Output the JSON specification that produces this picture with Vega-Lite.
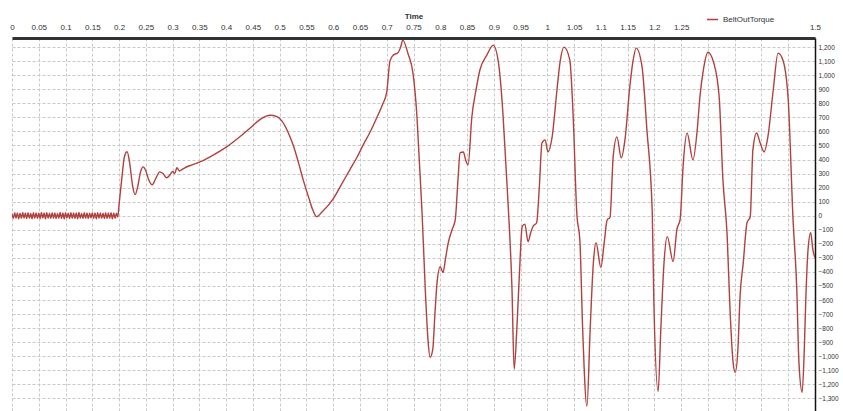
{
  "$schema": "https://vega.github.io/schema/vega-lite/v6.json",
  "width": 803,
  "height": 373,
  "autosize": {"type": "none"},
  "padding": {"left": 12, "top": 38, "right": 28, "bottom": 0},
  "background": "white",
  "config": {
    "view": {"stroke": null},
    "font": "Liberation Sans"
  },
  "data": {
    "values": [
      {"t": 0, "torque": 15}, {"t": 0.0025, "torque": -20}, {"t": 0.005, "torque": 22}, {"t": 0.0075, "torque": -18},
      {"t": 0.01, "torque": 20}, {"t": 0.0125, "torque": -22}, {"t": 0.015, "torque": 18}, {"t": 0.0175, "torque": -19},
      {"t": 0.02, "torque": 23}, {"t": 0.0225, "torque": -17}, {"t": 0.025, "torque": 19}, {"t": 0.0275, "torque": -21},
      {"t": 0.03, "torque": 21}, {"t": 0.0325, "torque": -18}, {"t": 0.035, "torque": 17}, {"t": 0.0375, "torque": -22},
      {"t": 0.04, "torque": 22}, {"t": 0.0425, "torque": -19}, {"t": 0.045, "torque": 20}, {"t": 0.0475, "torque": -20},
      {"t": 0.05, "torque": 18}, {"t": 0.0525, "torque": -21}, {"t": 0.055, "torque": 23}, {"t": 0.0575, "torque": -17},
      {"t": 0.06, "torque": 19}, {"t": 0.0625, "torque": -22}, {"t": 0.065, "torque": 21}, {"t": 0.0675, "torque": -18},
      {"t": 0.07, "torque": 18}, {"t": 0.0725, "torque": -20}, {"t": 0.075, "torque": 22}, {"t": 0.0775, "torque": -19},
      {"t": 0.08, "torque": 20}, {"t": 0.0825, "torque": -21}, {"t": 0.085, "torque": 17}, {"t": 0.0875, "torque": -18},
      {"t": 0.09, "torque": 23}, {"t": 0.0925, "torque": -20}, {"t": 0.095, "torque": 19}, {"t": 0.0975, "torque": -22},
      {"t": 0.1, "torque": 21}, {"t": 0.1025, "torque": -17}, {"t": 0.105, "torque": 18}, {"t": 0.1075, "torque": -21},
      {"t": 0.11, "torque": 22}, {"t": 0.1125, "torque": -19}, {"t": 0.115, "torque": 20}, {"t": 0.1175, "torque": -20},
      {"t": 0.12, "torque": 19}, {"t": 0.1225, "torque": -22}, {"t": 0.125, "torque": 23}, {"t": 0.1275, "torque": -18},
      {"t": 0.13, "torque": 17}, {"t": 0.1325, "torque": -20}, {"t": 0.135, "torque": 21}, {"t": 0.1375, "torque": -19},
      {"t": 0.14, "torque": 20}, {"t": 0.1425, "torque": -21}, {"t": 0.145, "torque": 18}, {"t": 0.1475, "torque": -17},
      {"t": 0.15, "torque": 22}, {"t": 0.1525, "torque": -20}, {"t": 0.155, "torque": 19}, {"t": 0.1575, "torque": -22},
      {"t": 0.16, "torque": 21}, {"t": 0.1625, "torque": -18}, {"t": 0.165, "torque": 20}, {"t": 0.1675, "torque": -19},
      {"t": 0.17, "torque": 18}, {"t": 0.1725, "torque": -21}, {"t": 0.175, "torque": 22}, {"t": 0.1775, "torque": -20},
      {"t": 0.18, "torque": 19}, {"t": 0.1825, "torque": -18}, {"t": 0.185, "torque": 21}, {"t": 0.1875, "torque": -22},
      {"t": 0.19, "torque": 20}, {"t": 0.1925, "torque": -19}, {"t": 0.195, "torque": 18}, {"t": 0.1975, "torque": -10},
      {"t": 0.2, "torque": 80}, {"t": 0.205, "torque": 260}, {"t": 0.21, "torque": 420}, {"t": 0.215, "torque": 455},
      {"t": 0.22, "torque": 370}, {"t": 0.225, "torque": 220}, {"t": 0.23, "torque": 150}, {"t": 0.235, "torque": 210},
      {"t": 0.24, "torque": 310}, {"t": 0.245, "torque": 348}, {"t": 0.25, "torque": 320}, {"t": 0.255, "torque": 260},
      {"t": 0.262, "torque": 220}, {"t": 0.268, "torque": 260}, {"t": 0.276, "torque": 312}, {"t": 0.282, "torque": 300},
      {"t": 0.289, "torque": 270}, {"t": 0.295, "torque": 290}, {"t": 0.3, "torque": 315}, {"t": 0.304, "torque": 300},
      {"t": 0.308, "torque": 341}, {"t": 0.313, "torque": 318}, {"t": 0.318, "torque": 330}, {"t": 0.325, "torque": 345},
      {"t": 0.335, "torque": 360}, {"t": 0.351, "torque": 383}, {"t": 0.375, "torque": 430}, {"t": 0.401, "torque": 490},
      {"t": 0.425, "torque": 560}, {"t": 0.445, "torque": 625}, {"t": 0.465, "torque": 690}, {"t": 0.482, "torque": 715},
      {"t": 0.495, "torque": 705}, {"t": 0.504, "torque": 675}, {"t": 0.515, "torque": 600}, {"t": 0.525, "torque": 505},
      {"t": 0.535, "torque": 380}, {"t": 0.544, "torque": 255}, {"t": 0.555, "torque": 120}, {"t": 0.562, "torque": 40},
      {"t": 0.569, "torque": -7}, {"t": 0.58, "torque": 30}, {"t": 0.6, "torque": 120}, {"t": 0.615, "torque": 220},
      {"t": 0.631, "torque": 327}, {"t": 0.645, "torque": 420}, {"t": 0.656, "torque": 504}, {"t": 0.669, "torque": 596},
      {"t": 0.682, "torque": 703}, {"t": 0.692, "torque": 790}, {"t": 0.7, "torque": 880}, {"t": 0.706, "torque": 1100},
      {"t": 0.712, "torque": 1143}, {"t": 0.721, "torque": 1160}, {"t": 0.726, "torque": 1200}, {"t": 0.73, "torque": 1250},
      {"t": 0.74, "torque": 1150}, {"t": 0.749, "torque": 1015}, {"t": 0.756, "torque": 731}, {"t": 0.761, "torque": 380},
      {"t": 0.766, "torque": 21}, {"t": 0.772, "torque": -525}, {"t": 0.777, "torque": -880}, {"t": 0.781, "torque": -1008},
      {"t": 0.786, "torque": -951}, {"t": 0.79, "torque": -700}, {"t": 0.794, "torque": -476}, {"t": 0.8, "torque": -362},
      {"t": 0.805, "torque": -405}, {"t": 0.81, "torque": -300}, {"t": 0.815, "torque": -192}, {"t": 0.822, "torque": -100},
      {"t": 0.828, "torque": -28}, {"t": 0.833, "torque": 250}, {"t": 0.837, "torque": 447}, {"t": 0.843, "torque": 454},
      {"t": 0.848, "torque": 390}, {"t": 0.852, "torque": 362}, {"t": 0.859, "torque": 703}, {"t": 0.867, "torque": 900},
      {"t": 0.874, "torque": 1037}, {"t": 0.887, "torque": 1143}, {"t": 0.899, "torque": 1214}, {"t": 0.908, "torque": 1108},
      {"t": 0.917, "torque": 731}, {"t": 0.922, "torque": 400}, {"t": 0.927, "torque": 64}, {"t": 0.934, "torque": -525},
      {"t": 0.938, "torque": -1093}, {"t": 0.943, "torque": -809}, {"t": 0.948, "torque": -400}, {"t": 0.953, "torque": -78},
      {"t": 0.958, "torque": -60}, {"t": 0.964, "torque": -185}, {"t": 0.969, "torque": -120}, {"t": 0.973, "torque": -78},
      {"t": 0.98, "torque": -50}, {"t": 0.985, "torque": 200}, {"t": 0.99, "torque": 518}, {"t": 0.996, "torque": 540},
      {"t": 1.001, "torque": 454}, {"t": 1.009, "torque": 561}, {"t": 1.018, "torque": 895}, {"t": 1.024, "torque": 1100},
      {"t": 1.031, "torque": 1200}, {"t": 1.042, "torque": 1108}, {"t": 1.048, "torque": 731}, {"t": 1.055, "torque": 21},
      {"t": 1.061, "torque": -192}, {"t": 1.066, "torque": -809}, {"t": 1.074, "torque": -1356}, {"t": 1.08, "torque": -809},
      {"t": 1.086, "torque": -334}, {"t": 1.091, "torque": -192}, {"t": 1.1, "torque": -369}, {"t": 1.106, "torque": -200},
      {"t": 1.112, "torque": -28}, {"t": 1.117, "torque": -14}, {"t": 1.123, "torque": 419}, {"t": 1.13, "torque": 561},
      {"t": 1.138, "torque": 412}, {"t": 1.145, "torque": 540}, {"t": 1.154, "torque": 916}, {"t": 1.16, "torque": 1100},
      {"t": 1.166, "torque": 1193}, {"t": 1.177, "torque": 1058}, {"t": 1.186, "torque": 611}, {"t": 1.196, "torque": 21},
      {"t": 1.199, "torque": -618}, {"t": 1.207, "torque": -1250}, {"t": 1.212, "torque": -809}, {"t": 1.218, "torque": -334},
      {"t": 1.224, "torque": -149}, {"t": 1.235, "torque": -327}, {"t": 1.242, "torque": -99}, {"t": 1.248, "torque": -28},
      {"t": 1.254, "torque": 376}, {"t": 1.261, "torque": 589}, {"t": 1.272, "torque": 398}, {"t": 1.28, "torque": 611},
      {"t": 1.285, "torque": 845}, {"t": 1.292, "torque": 1050}, {"t": 1.3, "torque": 1164}, {"t": 1.311, "torque": 1086},
      {"t": 1.321, "torque": 845}, {"t": 1.328, "torque": 256}, {"t": 1.336, "torque": -149}, {"t": 1.341, "torque": -646},
      {"t": 1.347, "torque": -1044}, {"t": 1.351, "torque": -1115}, {"t": 1.356, "torque": -951}, {"t": 1.36, "torque": -575},
      {"t": 1.366, "torque": -334}, {"t": 1.373, "torque": -50}, {"t": 1.379, "torque": -7}, {"t": 1.384, "torque": 469},
      {"t": 1.391, "torque": 589}, {"t": 1.397, "torque": 525}, {"t": 1.405, "torque": 454}, {"t": 1.412, "torque": 561},
      {"t": 1.422, "torque": 895}, {"t": 1.431, "torque": 1157}, {"t": 1.44, "torque": 1108}, {"t": 1.45, "torque": 824},
      {"t": 1.459, "torque": -28}, {"t": 1.466, "torque": -525}, {"t": 1.47, "torque": -1044}, {"t": 1.476, "torque": -1257},
      {"t": 1.48, "torque": -951}, {"t": 1.483, "torque": -575}, {"t": 1.487, "torque": -241}, {"t": 1.492, "torque": -121},
      {"t": 1.496, "torque": -241}, {"t": 1.5, "torque": -300}
    ]
  },
  "mark": {"type": "line", "strokeWidth": 1.4, "clip": true, "interpolate": "monotone"},
  "encoding": {
    "x": {
      "field": "t",
      "type": "quantitative",
      "scale": {"domain": [0, 1.5], "nice": false, "zero": false},
      "axis": {
        "orient": "top",
        "title": "Time",
        "titleFontSize": 8,
        "titleFontWeight": "bold",
        "titleColor": "#333",
        "titlePadding": 3,
        "values": [0, 0.05, 0.1, 0.15, 0.2, 0.25, 0.3, 0.35, 0.4, 0.45, 0.5, 0.55, 0.6, 0.65, 0.7, 0.75, 0.8, 0.85, 0.9, 0.95, 1, 1.05, 1.1, 1.15, 1.2, 1.25, 1.3, 1.35, 1.4, 1.45, 1.5],
        "format": "~g",
        "labelExpr": "datum.value > 1.27 && datum.value < 1.47 ? '' : datum.label",
        "labelFontSize": 8,
        "labelColor": "#333",
        "labelPadding": 7,
        "labelFlush": false,
        "labelOverlap": false,
        "ticks": false,
        "grid": true,
        "gridColor": "#c8c8c8",
        "gridDash": [3, 2],
        "gridWidth": 1,
        "domainColor": "#333",
        "domainWidth": 3
      }
    },
    "y": {
      "field": "torque",
      "type": "quantitative",
      "scale": {"domain": [-1390, 1265], "nice": false, "zero": false},
      "axis": {
        "orient": "right",
        "title": null,
        "values": [-1300, -1200, -1100, -1000, -900, -800, -700, -600, -500, -400, -300, -200, -100, 0, 100, 200, 300, 400, 500, 600, 700, 800, 900, 1000, 1100, 1200],
        "format": ",d",
        "labelFontSize": 6.5,
        "labelColor": "#333",
        "labelPadding": 3,
        "labelOverlap": false,
        "ticks": false,
        "grid": true,
        "gridColor": "#c8c8c8",
        "gridDash": [3, 2],
        "gridWidth": 1,
        "domainColor": "#111",
        "domainWidth": 1.5
      }
    },
    "color": {
      "datum": "BeltOutTorque",
      "type": "nominal",
      "scale": {"range": ["#b0413e"]},
      "legend": {
        "title": null,
        "orient": "none",
        "legendX": 694,
        "legendY": -25,
        "symbolType": "stroke",
        "symbolSize": 120,
        "symbolStrokeWidth": 1.5,
        "labelFontSize": 8,
        "labelColor": "#333",
        "padding": 0
      }
    }
  }
}
